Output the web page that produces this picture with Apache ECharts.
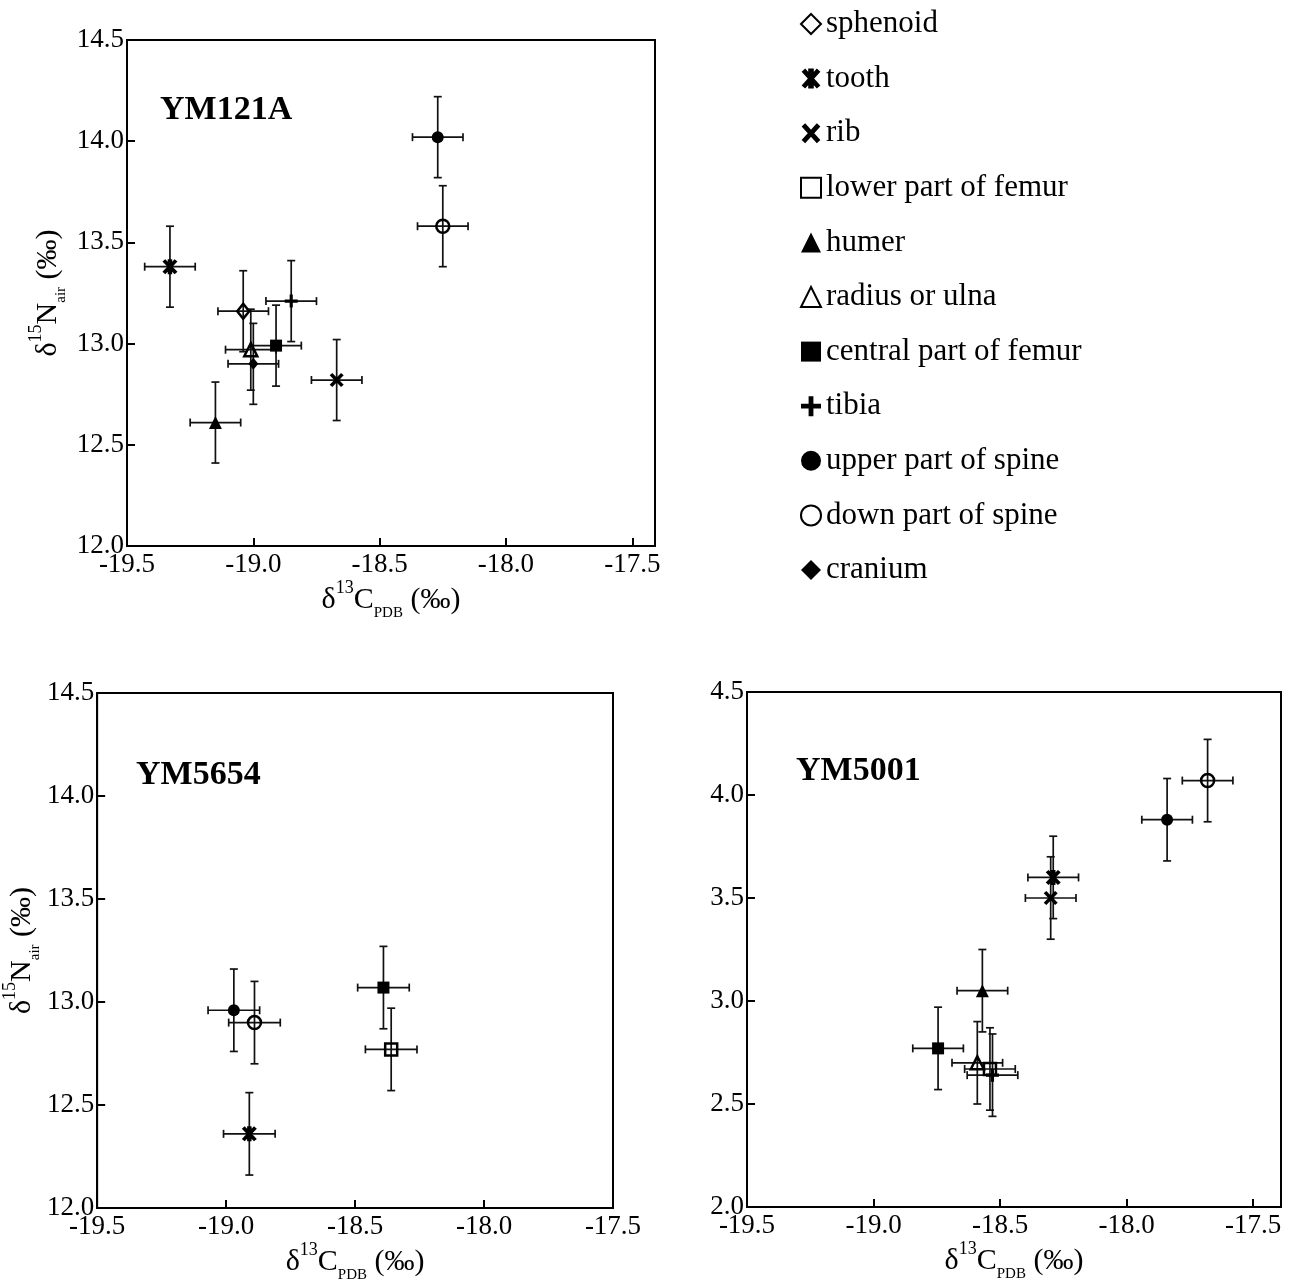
<!DOCTYPE html>
<html>
<head>
<meta charset="utf-8">
<script src="https://cdn.jsdelivr.net/npm/echarts@6/dist/echarts.min.js"></script>
<style>
  html, body { margin: 0; padding: 0; background: #fff; }
  #main { width: 1292px; height: 1287px; }
</style>
</head>
<body>
<div id="main"></div>
<script>
// tissue types, in legend order
var tissues = ['sphenoid', 'tooth', 'rib', 'lower part of femur', 'humer', 'radius or ulna',
  'central part of femur', 'tibia', 'upper part of spine', 'down part of spine', 'cranium'];

// YM121A
var ym121aTissue = ['upper part of spine', 'down part of spine', 'tooth', 'sphenoid', 'tibia',
  'central part of femur', 'radius or ulna', 'cranium', 'rib', 'humer'];
var ym121aC = [-18.27, -18.25, -19.33, -19.04, -18.85, -18.91, -19.01, -19.00, -18.67, -19.15];
var ym121aN = [14.02, 13.58, 13.38, 13.16, 13.21, 12.99, 12.97, 12.90, 12.82, 12.61];
var ym121aErrC = [0.1, 0.1, 0.1, 0.1, 0.1, 0.1, 0.1, 0.1, 0.1, 0.1];
var ym121aErrN = [0.2, 0.2, 0.2, 0.2, 0.2, 0.2, 0.2, 0.2, 0.2, 0.2];

// YM5654
var ym5654Tissue = ['upper part of spine', 'down part of spine', 'central part of femur',
  'lower part of femur', 'tooth'];
var ym5654C = [-18.97, -18.89, -18.39, -18.36, -18.91];
var ym5654N = [12.96, 12.90, 13.07, 12.77, 12.36];
var ym5654ErrC = [0.1, 0.1, 0.1, 0.1, 0.1];
var ym5654ErrN = [0.2, 0.2, 0.2, 0.2, 0.2];

// YM5001
var ym5001Tissue = ['down part of spine', 'upper part of spine', 'tooth', 'rib', 'humer',
  'central part of femur', 'radius or ulna', 'lower part of femur', 'tibia'];
var ym5001C = [-17.68, -17.84, -18.29, -18.30, -18.57, -18.745, -18.59, -18.54, -18.53];
var ym5001N = [4.07, 3.88, 3.60, 3.50, 3.05, 2.77, 2.70, 2.67, 2.64];
var ym5001ErrC = [0.1, 0.1, 0.1, 0.1, 0.1, 0.1, 0.1, 0.1, 0.1];
var ym5001ErrN = [0.2, 0.2, 0.2, 0.2, 0.2, 0.2, 0.2, 0.2, 0.2];

var FONT = "'Liberation Serif', 'Times New Roman', serif";

// marker shapes (bold strokes built as filled bars)
var asteriskPath = 'path://M36,0L64,0L64,100L36,100Z M20.9,0L96.9,84L79.1,100L3.1,16Z M96.9,16L20.9,100L3.1,84L79.1,0Z';
var crossPath = 'path://M20.9,0L96.9,84L79.1,100L3.1,16Z M96.9,16L20.9,100L3.1,84L79.1,0Z';
var plusPath = 'path://M38,0L62,0L62,100L38,100Z M0,38L100,38L100,62L0,62Z';

var markers = {
  'sphenoid': { symbol: 'diamond', size: [12, 15], open: true },
  'tooth': { symbol: asteriskPath, size: 15 },
  'rib': { symbol: crossPath, size: 14 },
  'lower part of femur': { symbol: 'rect', size: 12, open: true },
  'humer': { symbol: 'triangle', size: 13 },
  'radius or ulna': { symbol: 'triangle', size: 13, open: true },
  'central part of femur': { symbol: 'rect', size: 12 },
  'tibia': { symbol: plusPath, size: 13 },
  'upper part of spine': { symbol: 'circle', size: 12 },
  'down part of spine': { symbol: 'circle', size: 13, open: true },
  'cranium': { symbol: 'diamond', size: [10, 12] }
};

var panels = [
  { name: 'YM121A', tissue: ym121aTissue, c: ym121aC, n: ym121aN, ec: ym121aErrC, en: ym121aErrN,
    left: 127, top: 40, width: 528, height: 506, xMax: -17.41, yMin: 12, yMax: 14.5, yTitleGap: 58 },
  { name: 'YM5654', tissue: ym5654Tissue, c: ym5654C, n: ym5654N, ec: ym5654ErrC, en: ym5654ErrN,
    left: 90, top: 693, width: 523, height: 515, xMax: -17.5, yMin: 12, yMax: 14.5, yTitleGap: 50 },
  { name: 'YM5001', tissue: ym5001Tissue, c: ym5001C, n: ym5001N, ec: ym5001ErrC, en: ym5001ErrN,
    left: 747, top: 692, width: 534, height: 515, xMax: -17.39, yMin: 2, yMax: 4.5, yTitleGap: 0 }
];

var titlePos = [[160, 93], [136, 758], [796, 754]];

var rich = {
  a: { fontSize: 30, fontFamily: FONT, color: '#000', lineHeight: 42 },
  sup: { fontSize: 18, fontFamily: FONT, color: '#000', lineHeight: 26, verticalAlign: 'top' },
  sub: { fontSize: 15, fontFamily: FONT, color: '#000', lineHeight: 17, verticalAlign: 'bottom' }
};

function halfTick(v) {
  return Math.abs(v * 2 - Math.round(v * 2)) < 1e-6 ? v.toFixed(1) : '';
}

var grids = [], xAxes = [], yAxes = [], series = [], titles = [];

panels.forEach(function (p, i) {
  grids.push({ left: p.left, top: p.top, width: p.width, height: p.height,
    show: true, borderColor: '#000', borderWidth: 2, backgroundColor: '#fff' });

  xAxes.push({
    gridIndex: i, type: 'value', min: -19.5, max: p.xMax, interval: 0.5,
    axisLine: { onZero: false, lineStyle: { color: '#000', width: 2 } },
    axisTick: { inside: true, length: 8, lineStyle: { color: '#000', width: 2 } },
    axisLabel: { color: '#000', fontSize: 27, fontFamily: FONT, margin: 5, formatter: halfTick },
    splitLine: { show: false },
    name: '{a|δ}{sup|13}{a|C}{sub|PDB}{a| (‰)}',
    nameLocation: 'middle', nameGap: 33,
    nameTextStyle: { rich: rich }
  });

  yAxes.push({
    gridIndex: i, type: 'value', min: p.yMin, max: p.yMax, interval: 0.5,
    axisLine: { onZero: false, lineStyle: { color: '#000', width: 2 } },
    axisTick: { inside: true, length: 8, lineStyle: { color: '#000', width: 2 } },
    axisLabel: { color: '#000', fontSize: 27, fontFamily: FONT, margin: 3,
      formatter: function (v) { return v.toFixed(1); } },
    splitLine: { show: false },
    name: p.yTitleGap ? '{a|δ}{sup|15}{a|N}{sub|air}{a| (‰)}' : '',
    nameLocation: 'middle', nameGap: p.yTitleGap,
    nameTextStyle: { rich: rich }
  });

  titles.push({ text: p.name, left: titlePos[i][0], top: titlePos[i][1], padding: 0,
    textStyle: { fontFamily: FONT, fontWeight: 'bold', fontSize: 34, color: '#000' } });

  // error bars
  series.push({
    type: 'custom', name: 'err' + i, xAxisIndex: i, yAxisIndex: i, silent: true, z: 2,
    data: p.c.map(function (c, k) { return [c, p.n[k], p.ec[k], p.en[k]]; }),
    encode: { x: 0, y: 1 },
    renderItem: function (params, api) {
      var x = api.value(0), y = api.value(1), ex = api.value(2), ey = api.value(3);
      var L = api.coord([x - ex, y]), R = api.coord([x + ex, y]);
      var T = api.coord([x, y + ey]), B = api.coord([x, y - ey]);
      var cap = 4;
      var st = { stroke: '#111', lineWidth: 1.7 };
      function seg(x1, y1, x2, y2) {
        return { type: 'line', shape: { x1: x1, y1: y1, x2: x2, y2: y2 }, style: st };
      }
      return { type: 'group', children: [
        seg(L[0], L[1], R[0], R[1]), seg(T[0], T[1], B[0], B[1]),
        seg(L[0], L[1] - cap, L[0], L[1] + cap), seg(R[0], R[1] - cap, R[0], R[1] + cap),
        seg(T[0] - cap, T[1], T[0] + cap, T[1]), seg(B[0] - cap, B[1], B[0] + cap, B[1])
      ] };
    }
  });

  tissues.forEach(function (t) {
    var pts = [];
    p.tissue.forEach(function (tt, k) { if (tt === t) pts.push([p.c[k], p.n[k]]); });
    if (!pts.length) return;
    var m = markers[t];
    series.push({
      type: 'scatter', name: t, xAxisIndex: i, yAxisIndex: i, z: 3,
      symbol: m.symbol, symbolSize: m.size,
      itemStyle: m.open
        ? { color: 'rgba(255,255,255,0)', borderColor: '#000', borderWidth: 2.5, opacity: 1 }
        : { color: '#000', opacity: 1 },
      data: pts
    });
  });
});

var chart = echarts.init(document.getElementById('main'), null, { renderer: 'canvas' });
chart.setOption({
  backgroundColor: '#fff',
  animation: false,
  title: titles,
  legend: {
    orient: 'vertical', left: 795, top: 3,
    itemWidth: 20, itemHeight: 20, itemGap: 22.6,
    selectedMode: false,
    textStyle: { fontFamily: FONT, fontSize: 31, color: '#000', lineHeight: 32 },
    data: tissues
  },
  grid: grids,
  xAxis: xAxes,
  yAxis: yAxes,
  series: series
});
</script>
</body>
</html>
